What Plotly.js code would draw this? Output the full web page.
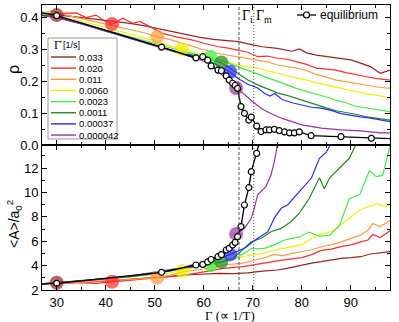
<!DOCTYPE html>
<html>
<head>
<meta charset="utf-8">
<script src="https://cdn.plot.ly/plotly-3.0.1.min.js"></script>
<style>body{margin:0;background:#fff}#graph{width:399px;height:322px}</style>
</head>
<body>
<div id="graph"></div>
<script>
// cooling rates (legend) and their colours
var rates = ['0.033', '0.020', '0.011', '0.0060', '0.0023', '0.0011', '0.00037', '0.000042'];
var colors = ['#9c2222', '#ff2a2a', '#ff9a3c', '#f0f000', '#3cf03c', '#1e8c1e', '#2a2aff', '#9b30a8'];

// top panel: rho vs Gamma
var rhoG1 = [27, 30, 33, 36, 39, 42, 45, 48, 51, 54, 57, 59, 62, 65, 67, 70, 72, 75, 78, 79.5, 81, 83, 86, 88, 90, 92, 94, 96, 98];
var rho1  = [0.415, 0.406, 0.402, 0.397, 0.392, 0.386, 0.38, 0.372, 0.362, 0.352, 0.343, 0.337, 0.33, 0.325, 0.323, 0.313, 0.307, 0.302, 0.293, 0.3, 0.288, 0.281, 0.275, 0.271, 0.266, 0.256, 0.245, 0.224, 0.234];
var rhoG2 = [27, 30, 32, 34, 36, 38, 40, 41.4, 43.5, 45.5, 47, 49.6, 51.6, 54.4, 57.8, 60, 63, 65, 67, 69, 71, 73, 75, 77, 79, 81, 83, 85, 87, 89, 91, 93, 95, 98];
var rho2  = [0.41, 0.408, 0.412, 0.413, 0.398, 0.406, 0.385, 0.378, 0.396, 0.38, 0.386, 0.365, 0.349, 0.338, 0.328, 0.318, 0.307, 0.303, 0.297, 0.29, 0.276, 0.278, 0.271, 0.268, 0.26, 0.252, 0.24, 0.238, 0.234, 0.226, 0.219, 0.214, 0.208, 0.203];
var rhoG3 = [27, 29, 33, 36, 39, 42, 45, 48, 50.5, 53, 56, 59, 61, 63, 65, 67, 69, 71, 73, 75, 77, 79, 81, 83, 85, 87, 89, 91, 93, 95, 98];
var rho3  = [0.412, 0.418, 0.402, 0.392, 0.382, 0.372, 0.362, 0.35, 0.338, 0.33, 0.316, 0.302, 0.293, 0.286, 0.281, 0.276, 0.272, 0.266, 0.26, 0.25, 0.246, 0.24, 0.232, 0.22, 0.212, 0.203, 0.198, 0.193, 0.188, 0.182, 0.177];
var rhoG4 = [27, 30, 35, 40, 45, 50, 53, 55.6, 59, 61, 63, 65, 67, 69, 71, 73, 75, 77, 79, 81, 83, 85, 87, 89, 91, 93, 95, 98];
var rho4  = [0.41, 0.402, 0.386, 0.368, 0.347, 0.324, 0.31, 0.299, 0.286, 0.275, 0.266, 0.258, 0.25, 0.245, 0.24, 0.232, 0.224, 0.218, 0.209, 0.203, 0.194, 0.188, 0.18, 0.174, 0.167, 0.162, 0.156, 0.148];
var rhoG5 = [27, 30, 35, 40, 45, 50, 55, 58, 61.2, 63, 65, 67, 69, 71, 73, 75, 77, 79, 81, 83, 85, 87, 89, 91, 93, 95, 98];
var rho5  = [0.41, 0.4, 0.382, 0.36, 0.339, 0.316, 0.296, 0.285, 0.275, 0.267, 0.256, 0.245, 0.232, 0.221, 0.21, 0.2, 0.188, 0.176, 0.168, 0.158, 0.15, 0.14, 0.132, 0.121, 0.116, 0.11, 0.104];
var rhoG6 = [27, 30, 35, 40, 45, 50, 55, 59, 61, 63.4, 65, 67, 69, 71, 73, 75, 77, 79, 81, 83, 85, 87, 89, 91, 93, 95, 98];
var rho6  = [0.406, 0.4, 0.38, 0.358, 0.335, 0.311, 0.29, 0.277, 0.268, 0.258, 0.244, 0.224, 0.203, 0.188, 0.176, 0.163, 0.155, 0.145, 0.134, 0.124, 0.116, 0.107, 0.102, 0.096, 0.089, 0.084, 0.078];
var rhoG7 = [27, 30, 35, 40, 45, 50, 55, 59, 62, 65.3, 67, 69, 71, 72.5, 73.5, 74.5, 76, 78, 80, 82, 84, 86, 88, 90, 92, 94, 96, 98];
var rho7  = [0.405, 0.399, 0.379, 0.356, 0.333, 0.31, 0.289, 0.274, 0.256, 0.229, 0.208, 0.19, 0.178, 0.16, 0.153, 0.161, 0.142, 0.132, 0.124, 0.118, 0.115, 0.108, 0.098, 0.092, 0.088, 0.084, 0.078, 0.073];
var rhoG8 = [27, 30, 35, 40, 45, 50, 55, 59, 61, 62.5, 64, 65.5, 66.6, 68, 70, 72, 74, 76, 78, 80, 84, 88, 92, 96, 98];
var rho8  = [0.404, 0.398, 0.378, 0.355, 0.332, 0.309, 0.287, 0.268, 0.255, 0.235, 0.215, 0.195, 0.178, 0.16, 0.135, 0.112, 0.096, 0.083, 0.072, 0.063, 0.053, 0.047, 0.044, 0.038, 0.038];

// bottom panel: <A>/a0^2 vs Gamma
var aG1 = [27, 30, 33, 36, 40, 44, 47, 50, 53, 56, 60, 63, 66, 69, 72, 75, 77, 79.5, 82, 84, 86, 88, 90, 92, 94, 96, 98];
var a1  = [2.5, 2.6, 2.6, 2.65, 2.72, 2.85, 2.92, 3.0, 3.12, 3.23, 3.3, 3.37, 3.35, 3.4, 3.55, 3.64, 3.78, 4.02, 4.2, 4.32, 4.45, 4.6, 4.65, 4.73, 4.95, 5.05, 5.15];
var aG2 = [27, 30, 34, 38, 41.3, 45, 48, 52, 56, 60, 64, 68, 72, 76, 80, 82, 84, 86, 88, 90, 92, 93.5, 94.5, 96, 98];
var a2  = [2.5, 2.55, 2.6, 2.55, 2.68, 2.8, 2.95, 3.05, 3.2, 3.5, 3.78, 3.92, 4.2, 4.45, 4.65, 4.9, 5.25, 5.35, 5.55, 5.7, 5.95, 6.1, 6.55, 6.3, 6.85];
var aG3 = [27, 30, 35, 40, 45, 50.3, 53, 56, 60, 64, 68, 72, 74.4, 76, 78, 80, 82, 84, 86, 88, 90, 92, 93.5, 94.5, 96, 98];
var a3  = [2.5, 2.6, 2.65, 2.75, 2.85, 3.0, 3.2, 3.5, 3.72, 4.05, 4.2, 4.6, 4.92, 4.8, 5.0, 5.15, 5.3, 5.55, 5.7, 5.95, 6.2, 6.5, 6.9, 7.45, 7.2, 7.7];
var aG4 = [27, 30, 35, 40, 45, 50, 55.6, 60, 64, 68, 72, 76, 80, 82, 84, 86, 88, 90, 92, 94, 95.5, 97, 98];
var a4  = [2.5, 2.6, 2.72, 2.88, 3.05, 3.25, 3.56, 4.05, 4.32, 4.73, 5.0, 5.4, 5.7, 6.2, 6.6, 6.8, 7.3, 8.0, 8.6, 8.85, 9.1, 8.8, 9.1];
var aG5 = [27, 30, 35, 40, 45, 50, 55, 58, 61.4, 64, 66.3, 68.3, 69.7, 72.4, 74.4, 76.5, 79.5, 81.5, 83.6, 85.7, 87.7, 89.7, 91.8, 93.8, 95.2, 96.5, 98];
var a5  = [2.5, 2.6, 2.75, 2.9, 3.1, 3.35, 3.7, 3.9, 4.05, 4.3, 4.6, 5.0, 5.4, 5.42, 5.7, 6.1, 6.35, 6.75, 6.4, 6.5, 7.3, 9.5, 9.8, 11.8, 11.3, 11.4, 13.8];
var aG6 = [27, 30, 35, 40, 45, 50, 55, 59, 63.6, 66, 68.3, 69.7, 71.7, 73.8, 75.8, 77.8, 79.5, 81.5, 83.6, 84.6, 85.7, 87.7, 89.7, 91, 92];
var a6  = [2.5, 2.6, 2.75, 2.9, 3.1, 3.35, 3.7, 4.0, 4.32, 4.6, 5.4, 5.96, 6.24, 6.8, 7.05, 7.6, 8.3, 9.5, 11.2, 10.3, 11.2, 12.0, 12.8, 13.9, 14.6];
var aG7 = [27, 30, 35, 40, 45, 50, 55, 60, 65.4, 68.3, 71, 73.1, 74.4, 75.8, 77.1, 78.9, 80.5, 82, 83.6, 85, 86.5];
var a7  = [2.5, 2.6, 2.75, 2.9, 3.15, 3.4, 3.75, 4.1, 4.92, 5.42, 6.24, 6.78, 7.9, 8.7, 8.97, 9.8, 10.6, 11.2, 12.8, 13.3, 14.4];
var aG8 = [27, 30, 35, 40, 45, 50, 55, 60.1, 64.2, 65.9, 66.6, 68.3, 69.7, 70.3, 71, 72.7, 73.7, 74.4, 75.2];
var a8  = [2.5, 2.6, 2.75, 2.9, 3.15, 3.45, 3.8, 4.32, 5.0, 5.69, 6.6, 7.05, 7.88, 8.7, 9.8, 10.5, 11.4, 12.5, 14.3];

// where each run leaves equilibrium (big circles)
var dropGamma = [30, 41.3, 50.5, 55.6, 61.4, 63.6, 65.4, 66.6];
var dropRho   = [0.406, 0.378, 0.338, 0.299, 0.275, 0.258, 0.229, 0.178];
var dropA     = [2.6, 2.68, 3.0, 3.55, 4.05, 4.32, 4.92, 6.6];

// equilibrium curve (first point only starts the line at the frame)
var eqGamma = [27, 30, 51.4, 58.4, 59.8, 60.8, 61.5, 62.9, 63.6, 64.6, 65.2, 65.9, 66.4, 66.9, 67.6, 68.3, 69.2, 69.7, 70.8, 71.7, 72.7, 73.4, 74.4, 75.4, 76.5, 77.5, 78.5, 79.5, 81.9, 88.0, 94.2, 98];
var eqRho   = [0.413, 0.404, 0.306, 0.272, 0.276, 0.265, 0.247, 0.234, 0.232, 0.216, 0.203, 0.193, 0.186, 0.177, 0.12, 0.099, 0.078, 0.087, 0.059, 0.042, 0.047, 0.047, 0.049, 0.045, 0.041, 0.038, 0.038, 0.041, 0.029, 0.026, 0.021, 0.02];
var eqA     = [2.48, 2.55, 3.45, 4.05, 4.1, 4.3, 4.5, 4.73, 4.9, 5.28, 5.42, 5.69, 5.9, 6.37, 7.2, 8.97, 10.4, 11.7, 13.2, 14.6];

var gammaI = 67.2, gammaM = 70.2;

var rhoG = [rhoG1, rhoG2, rhoG3, rhoG4, rhoG5, rhoG6, rhoG7, rhoG8];
var rhoV = [rho1, rho2, rho3, rho4, rho5, rho6, rho7, rho8];
var aG = [aG1, aG2, aG3, aG4, aG5, aG6, aG7, aG8];
var aV = [a1, a2, a3, a4, a5, a6, a7, a8];

var data = [];
for (var i = 0; i < rates.length; i++) {
  data.push({x: rhoG[i], y: rhoV[i], xaxis: 'x2', yaxis: 'y2', mode: 'lines', line: {color: colors[i], width: 1.2}});
  data.push({x: aG[i], y: aV[i], xaxis: 'x', yaxis: 'y', mode: 'lines', line: {color: colors[i], width: 1.2}});
}
data.push({x: dropGamma, y: dropRho, xaxis: 'x2', yaxis: 'y2', mode: 'markers',
  marker: {size: 14, color: colors, opacity: 0.7, line: {width: 0}}});
data.push({x: dropGamma, y: dropA, xaxis: 'x', yaxis: 'y', mode: 'markers',
  marker: {size: 14, color: colors, opacity: 0.7, line: {width: 0}}});
var eqMark = {symbol: 'circle', size: 6, color: 'white', line: {color: 'black', width: 1.2}};
data.push({x: eqGamma, y: eqRho, xaxis: 'x2', yaxis: 'y2', mode: 'lines', line: {color: 'black', width: 1.3}});
data.push({x: eqGamma.slice(1, eqGamma.length - 1), y: eqRho.slice(1, eqGamma.length - 1), xaxis: 'x2', yaxis: 'y2', mode: 'markers', marker: eqMark});
data.push({x: eqGamma.slice(0, eqA.length), y: eqA, xaxis: 'x', yaxis: 'y', mode: 'lines', line: {color: 'black', width: 1.3}});
data.push({x: eqGamma.slice(1, eqA.length), y: eqA.slice(1), xaxis: 'x', yaxis: 'y', mode: 'markers', marker: eqMark});

// pixel -> paper helpers (plot area 42..390 x 5..290)
function px(x) { return (x - 42) / 348; }
function py(y) { return (290 - y) / 285; }

var shapes = [
  {type: 'line', xref: 'x', yref: 'paper', x0: gammaI, x1: gammaI, y0: 0, y1: 1, line: {color: '#555', width: 1, dash: '3px,2px'}},
  {type: 'line', xref: 'x', yref: 'paper', x0: gammaM, x1: gammaM, y0: 0, y1: 1, line: {color: '#555', width: 1, dash: '1px,2px'}},
  {type: 'rect', xref: 'paper', yref: 'paper', x0: px(48), x1: px(117), y0: py(139), y1: py(38), fillcolor: 'white', line: {color: '#999', width: 1}},
  {type: 'line', xref: 'paper', yref: 'paper', x0: px(297), x1: px(316), y0: py(15), y1: py(15), line: {color: 'black', width: 1.3}},
  {type: 'circle', xref: 'paper', yref: 'paper', x0: px(303.5), x1: px(309.5), y0: py(18), y1: py(12), fillcolor: 'white', line: {color: 'black', width: 1.2}}
];
function note(x, y, text, font, anchor, angle) {
  return {xref: 'paper', yref: 'paper', x: px(x), y: py(y), xanchor: anchor || 'center', yanchor: 'middle',
    showarrow: false, text: text, font: font, textangle: angle || 0};
}
var sans = function (s) { return {family: 'Liberation Sans', size: s, color: 'black'}; };
var serif = function (s) { return {family: 'Liberation Serif', size: s, color: 'black'}; };
var annotations = [
  note(52, 45, 'Γ̇', serif(12), 'left'),
  note(61, 45, '[1/s]', sans(9), 'left'),
  note(318, 15, 'equilibrium', sans(12), 'left'),
  note(240, 16, 'Γ<sub>i</sub>', serif(14), 'left'),
  note(254, 16, 'Γ<sub>m</sub>', serif(14), 'left'),
  note(13, 70, 'ρ', sans(16), 'center', -90),
  note(14, 224, '&lt;A&gt;/a<sub>0</sub><sup>2</sup>', sans(14), 'center', -90),
  note(230, 315, 'Γ (∝ 1/T)', serif(13), 'center')
];
for (var j = 0; j < rates.length; j++) {
  var yy = 57 + 11.15 * j;
  shapes.push({type: 'line', xref: 'paper', yref: 'paper', x0: px(51), x1: px(76), y0: py(yy), y1: py(yy), line: {color: colors[j], width: 1.4}});
  annotations.push(note(77, yy, rates[j], sans(9.5), 'left'));
}

function axisStyle(extra) {
  var a = {showline: true, linecolor: 'black', linewidth: 1, mirror: 'allticks', ticks: 'inside', ticklen: 5, tickcolor: 'black',
    showgrid: false, zeroline: false, tickfont: {family: 'Liberation Sans', size: 13, color: 'black'}};
  for (var k in extra) a[k] = extra[k];
  return a;
}

var layout = {
  width: 399, height: 322,
  margin: {l: 42, r: 9, t: 5, b: 32},
  showlegend: false,
  paper_bgcolor: 'white', plot_bgcolor: 'white',
  xaxis: axisStyle({anchor: 'y', range: [27, 98], dtick: 10, tick0: 0, ticklabelstandoff: 0, minor: {dtick: 5, ticks: 'inside', ticklen: 3, tickcolor: 'black'}}),
  xaxis2: axisStyle({anchor: 'y2', matches: 'x', range: [27, 98], dtick: 10, tick0: 0, showticklabels: false, minor: {dtick: 5, ticks: 'inside', ticklen: 3, tickcolor: 'black'}}),
  yaxis: axisStyle({anchor: 'x', domain: [0, 145 / 285], range: [2, 13.89], dtick: 2, tick0: 0, minor: {dtick: 1, ticks: 'inside', ticklen: 3, tickcolor: 'black'}}),
  yaxis2: axisStyle({anchor: 'x2', domain: [145 / 285, 1], range: [0, 0.4375], dtick: 0.1, tick0: 0, tickformat: '.1f', minor: {dtick: 0.05, ticks: 'inside', ticklen: 3, tickcolor: 'black'}}),
  shapes: shapes,
  annotations: annotations
};

Plotly.newPlot('graph', data, layout, {staticPlot: true});
</script>
</body>
</html>
